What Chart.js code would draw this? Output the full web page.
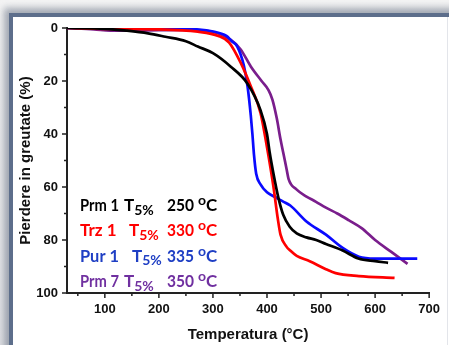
<!DOCTYPE html>
<html>
<head>
<meta charset="utf-8">
<script src="https://cdn.jsdelivr.net/npm/chart.js@4.4.1/dist/chart.umd.min.js"></script>
<style>
  html, body { margin: 0; padding: 0; background: #fff; }
  body { width: 449px; height: 345px; position: relative; overflow: hidden;
         background: linear-gradient(to bottom, #f4f4f4, #e2e3e6); }
  .panel { position: absolute; left: 9px; top: 13px; width: 460px; height: 360px;
           border-left: 4px solid #5d6e8b; border-top: 4px solid #5d6e8b;
           background: #fff; box-shadow: -3px -3px 7px 2px rgba(95,105,125,0.55); }
  .edge { position: absolute; left: 447px; top: 17px; width: 1px; height: 328px; background: #e3e5ea; }
  #wrap { position: absolute; left: 0; top: 0; width: 449px; height: 345px; }
</style>
</head>
<body>
<div class="panel"></div>
<div class="edge"></div>
<div id="wrap"><canvas id="tga" width="449" height="345"></canvas></div>
<script>
// Axis ticks
const xTicks = [100, 200, 300, 400, 500, 600, 700];
const xMinor = [50, 150, 250, 350, 450, 550, 650];
const yTicks = [0, 20, 40, 60, 80, 100];
const yMinor = [10, 30, 50, 70, 90];

// Prm 1 (black)
const prm1Temp = [30, 100, 140, 180, 212, 250, 272, 300, 333, 364, 388, 400, 405, 412, 421, 430, 442, 455, 473, 491, 509, 540, 569, 600, 624];
const prm1Loss = [0, 0.3, 1, 2, 3.3, 5, 7, 9.5, 14.6, 21, 31, 40, 47, 55, 64, 70.5, 75, 77.5, 79, 80, 81.5, 84, 87, 88, 88.6];

// Trz 1 (red)
const trz1Temp = [30, 100, 200, 272, 310, 330, 351, 370, 388, 400, 412, 420, 425, 436, 443, 455, 479, 509, 527, 570, 636];
const trz1Loss = [0, 0.3, 0.5, 1.4, 3, 5.5, 13, 22, 32, 45, 60, 72, 78, 82.5, 84, 86, 88, 91, 92.5, 93.6, 94.3];

// Pur 1 (blue)
const pur1Temp = [30, 200, 303, 325, 335, 345, 357, 364, 370, 373, 376, 380, 388, 400, 412, 430, 443, 473, 509, 540, 570, 600, 678];
const pur1Loss = [0, 0, 1.4, 3, 5, 7, 14, 22, 33, 40, 48, 55, 59, 62, 63.5, 65.5, 67, 73, 78, 83, 86.3, 87, 87];

// Prm 7 (purple)
const prm7Temp = [30, 80, 110, 150, 200, 250, 300, 333, 351, 370, 390, 403, 410, 418, 425, 430, 436, 440, 455, 473, 490, 509, 530, 551, 575, 600, 630, 660];
const prm7Loss = [0, 0.5, 1, 1, 0.8, 0.7, 1.5, 4.5, 8, 14.5, 20, 23.5, 27, 34, 42, 47, 53, 57, 61, 63.6, 65.5, 67.8, 70, 72.5, 75.5, 80, 84.5, 89];

// Legend lines: name, T5% value, colour
const legendNames = ['Prm 1', 'Trz 1', 'Pur 1', 'Prm 7'];
const legendT5 = ['250', '330', '335', '350'];
const legendColors = ['#000000', '#ff0000', '#1f3fc4', '#7030a0'];

const toPoints = (xs, ys) => xs.map((x, i) => ({ x: x, y: ys[i] }));

const line = (label, xs, ys, color) => ({
    label: label,
    data: toPoints(xs, ys),
    borderColor: color,
    borderWidth: 2.7,
    pointRadius: 0,
    fill: false,
    cubicInterpolationMode: 'monotone'
});

// Minor + major tick marks, pointing outward
const tickMarks = {
    id: 'tickMarks',
    afterDraw(chart) {
        const ctx = chart.ctx;
        const xs = chart.scales.x, ys = chart.scales.y;
        const area = chart.chartArea;
        ctx.save();
        ctx.strokeStyle = '#222';
        ctx.lineWidth = 1.5;
        ctx.beginPath();
        xTicks.forEach(v => { const p = xs.getPixelForValue(v); ctx.moveTo(p, area.bottom); ctx.lineTo(p, area.bottom + 5); });
        xMinor.forEach(v => { const p = xs.getPixelForValue(v); ctx.moveTo(p, area.bottom); ctx.lineTo(p, area.bottom + 3); });
        yTicks.forEach(v => { const p = ys.getPixelForValue(v); ctx.moveTo(area.left, p); ctx.lineTo(area.left - 5, p); });
        yMinor.forEach(v => { const p = ys.getPixelForValue(v); ctx.moveTo(area.left, p); ctx.lineTo(area.left - 3, p); });
        ctx.stroke();
        ctx.restore();
    }
};

// "Name T5% value oC" labels with sub/superscripts
const t5Legend = {
    id: 't5Legend',
    afterDraw(chart) {
        const ctx = chart.ctx;
        const big = 'bold 17px Lato, "Liberation Sans", sans-serif';
        const small = 'bold 14px Lato, "Liberation Sans", sans-serif';
        const nameX = 80;
        const tX = [124, 129, 132, 124];
        const valX = 167;
        ctx.save();
        ctx.textBaseline = 'alphabetic';
        ctx.textAlign = 'left';
        legendNames.forEach((name, i) => {
            const base = 211 + i * 25.4;
            ctx.fillStyle = legendColors[i];
            ctx.font = big;
            ctx.fillText(name, nameX, base, 39);
            ctx.fillText('T', tX[i], base);
            let x = tX[i] + ctx.measureText('T').width;
            ctx.font = small;
            ctx.fillText('5%', x, base + 3.5, 162 - x);
            ctx.font = big;
            ctx.fillText(legendT5[i], valX, base, 27);
            x = valX + 31;
            ctx.font = small;
            ctx.fillText('o', x, base - 6);
            x += ctx.measureText('o').width;
            ctx.font = big;
            ctx.fillText('C', x, base);
        });
        ctx.restore();
    }
};

const tickFont = { family: '"Liberation Sans", Arial, sans-serif', size: 13, weight: 'bold' };
const titleFont = { family: '"Liberation Sans", Arial, sans-serif', size: 15, weight: 'bold' };

new Chart(document.getElementById('tga'), {
    type: 'line',
    data: {
        datasets: [
            line('Prm 1', prm1Temp, prm1Loss, '#000000'),
            line('Trz 1', trz1Temp, trz1Loss, '#ff0000'),
            line('Pur 1', pur1Temp, pur1Loss, '#0a0aff'),
            line('Prm 7', prm7Temp, prm7Loss, '#7a1e8c')
        ]
    },
    options: {
        responsive: false,
        animation: false,
        layout: { padding: { left: 14, top: 28, right: 13, bottom: 0 } },
        plugins: { legend: { display: false }, tooltip: { enabled: false } },
        scales: {
            x: {
                type: 'linear',
                min: 30,
                max: 700,
                afterBuildTicks: s => { s.ticks = xTicks.map(v => ({ value: v })); },
                afterFit: s => { s.height = 52; },
                grid: { display: false, drawTicks: false },
                border: { display: true, color: '#222', width: 2 },
                ticks: { color: '#111', font: tickFont, padding: 9, maxRotation: 0 },
                title: { display: true, text: 'Temperatura (°C)', color: '#111', font: titleFont, padding: { top: 0, bottom: 1 } }
            },
            y: {
                type: 'linear',
                reverse: true,
                min: 0,
                max: 100,
                afterBuildTicks: s => { s.ticks = yTicks.map(v => ({ value: v })); },
                afterFit: s => { s.width = 53; },
                grid: { display: false, drawTicks: false },
                border: { display: true, color: '#222', width: 2 },
                ticks: { color: '#111', font: tickFont, padding: 9 },
                title: { display: true, text: 'Pierdere in greutate (%)', color: '#111', font: titleFont, padding: { top: 3, bottom: 0 } }
            }
        }
    },
    plugins: [tickMarks, t5Legend]
});
</script>
</body>
</html>
